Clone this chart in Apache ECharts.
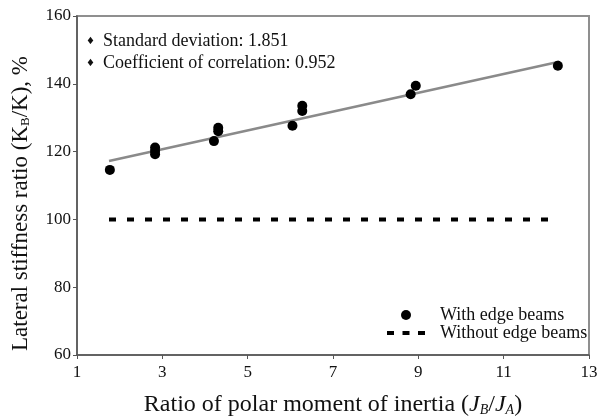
<!DOCTYPE html>
<html>
<head>
<meta charset="utf-8">
<script src="https://cdn.jsdelivr.net/npm/echarts@6/dist/echarts.min.js"></script>
<style>html,body{margin:0;padding:0;background:#fff}#c{width:602px;height:418px}</style>
</head>
<body>
<div id="c"></div>
<script>
// Data
const withEdgeBeams = [
  [1.77, 114.6],
  [2.83, 121.2], [2.83, 120.2], [2.83, 119.2],
  [4.21, 123.1],
  [4.31, 127.0], [4.31, 126.0],
  [6.05, 127.6],
  [6.28, 133.5], [6.28, 132.0],
  [8.82, 136.9], [8.94, 139.4],
  [12.27, 145.3]
];
const regressionLine = [[1.75, 117.2], [12.3, 146.5]];
const withoutEdgeBeams = [[1.75, 100], [12.05, 100]];
const xTicks = [1, 3, 5, 7, 9, 11, 13];
const yTicks = [60, 80, 100, 120, 140, 160];
const notes = ['Standard deviation: 1.851', 'Coefficient of correlation: 0.952'];

const serif = '"Liberation Serif", "DejaVu Serif", serif';
const chart = echarts.init(document.getElementById('c'), null, {renderer: 'canvas'});
chart.setOption({
  animation: false,
  backgroundColor: '#fff',
  grid: {left: 77, right: 13, top: 16, bottom: 63, show: true, borderColor: '#8f8f8f', borderWidth: 2,
         outerBoundsMode: 'none', containLabel: false},
  xAxis: {
    type: 'value', min: xTicks[0], max: xTicks[xTicks.length - 1], interval: 2,
    splitLine: {show: false},
    axisLine: {lineStyle: {color: '#555', width: 1.5}},
    axisTick: {show: true, length: 4, lineStyle: {color: '#555'}},
    axisLabel: {color: '#111', fontFamily: serif, fontSize: 17, margin: 9},
    name: 'Ratio of polar moment of inertia ({i|J}{sub|B}/{i|J}{sub|A})',
    nameLocation: 'middle', nameGap: 38,
    nameTextStyle: {
      color: '#111', fontFamily: serif, fontSize: 24,
      rich: {
        i: {fontFamily: serif, fontSize: 24, fontStyle: 'italic', color: '#111'},
        sub: {fontFamily: serif, fontSize: 14, fontStyle: 'italic', color: '#111', verticalAlign: 'bottom', padding: [9, 0, 0, 0]}
      }
    }
  },
  yAxis: {
    type: 'value', min: yTicks[0], max: yTicks[yTicks.length - 1], interval: 20,
    splitLine: {show: false},
    axisLine: {show: true, lineStyle: {color: '#555', width: 1.5}},
    axisTick: {show: true, length: 4, lineStyle: {color: '#555'}},
    axisLabel: {color: '#111', fontFamily: serif, fontSize: 17, margin: 6},
    name: 'Lateral stiffness ratio (K{sub|B}/K), %',
    nameLocation: 'middle', nameGap: 45,
    nameTextStyle: {
      color: '#111', fontFamily: serif, fontSize: 23, padding: [0, 36, 0, 0],
      rich: {
        sub: {fontFamily: serif, fontSize: 13, color: '#111', verticalAlign: 'bottom', padding: [9, 0, 0, 0]}
      }
    }
  },
  legend: {
    orient: 'vertical', left: 387, top: 306, padding: 0, itemWidth: 38, itemHeight: 10, itemGap: 0,
    textStyle: {color: '#111', fontFamily: serif, fontSize: 18, lineHeight: 18, padding: [0, 0, 0, 10]},
    data: [
      {name: 'With edge beams', icon: 'circle', itemStyle: {color: '#000', opacity: 1, borderWidth: 0}},
      {name: 'Without edge beams', icon: 'path://M0,0h7v4h-7z M15.5,0h7v4h-7z M31,0h7v4h-7z',
       itemStyle: {color: '#000', opacity: 1, borderWidth: 0}}
    ]
  },
  graphic: notes.map((t, i) => ({
    type: 'group', left: 86, top: 32 + i * 22,
    children: [
      {type: 'text', x: 0, y: 4, style: {text: '\u2666', fontFamily: '"DejaVu Sans"', fontSize: 10, fill: '#111'}},
      {type: 'text', x: 17, y: 0, style: {text: t, fontFamily: serif, fontSize: 18, fill: '#111'}}
    ]
  })),
  series: [
    {
      name: 'Regression', type: 'line', data: regressionLine, showSymbol: false, symbol: 'none',
      lineStyle: {color: '#8a8a8a', width: 2.5}, z: 1, silent: true
    },
    {
      name: 'With edge beams', type: 'scatter', data: withEdgeBeams, symbol: 'circle', symbolSize: 10,
      itemStyle: {color: '#000', opacity: 1}, z: 3
    },
    {
      name: 'Without edge beams', type: 'line', data: withoutEdgeBeams, symbol: 'none', showSymbol: false,
      itemStyle: {color: '#000'},
      lineStyle: {color: '#000', width: 4, type: [7, 11], cap: 'butt'}, z: 2
    }
  ]
});
</script>
</body>
</html>
